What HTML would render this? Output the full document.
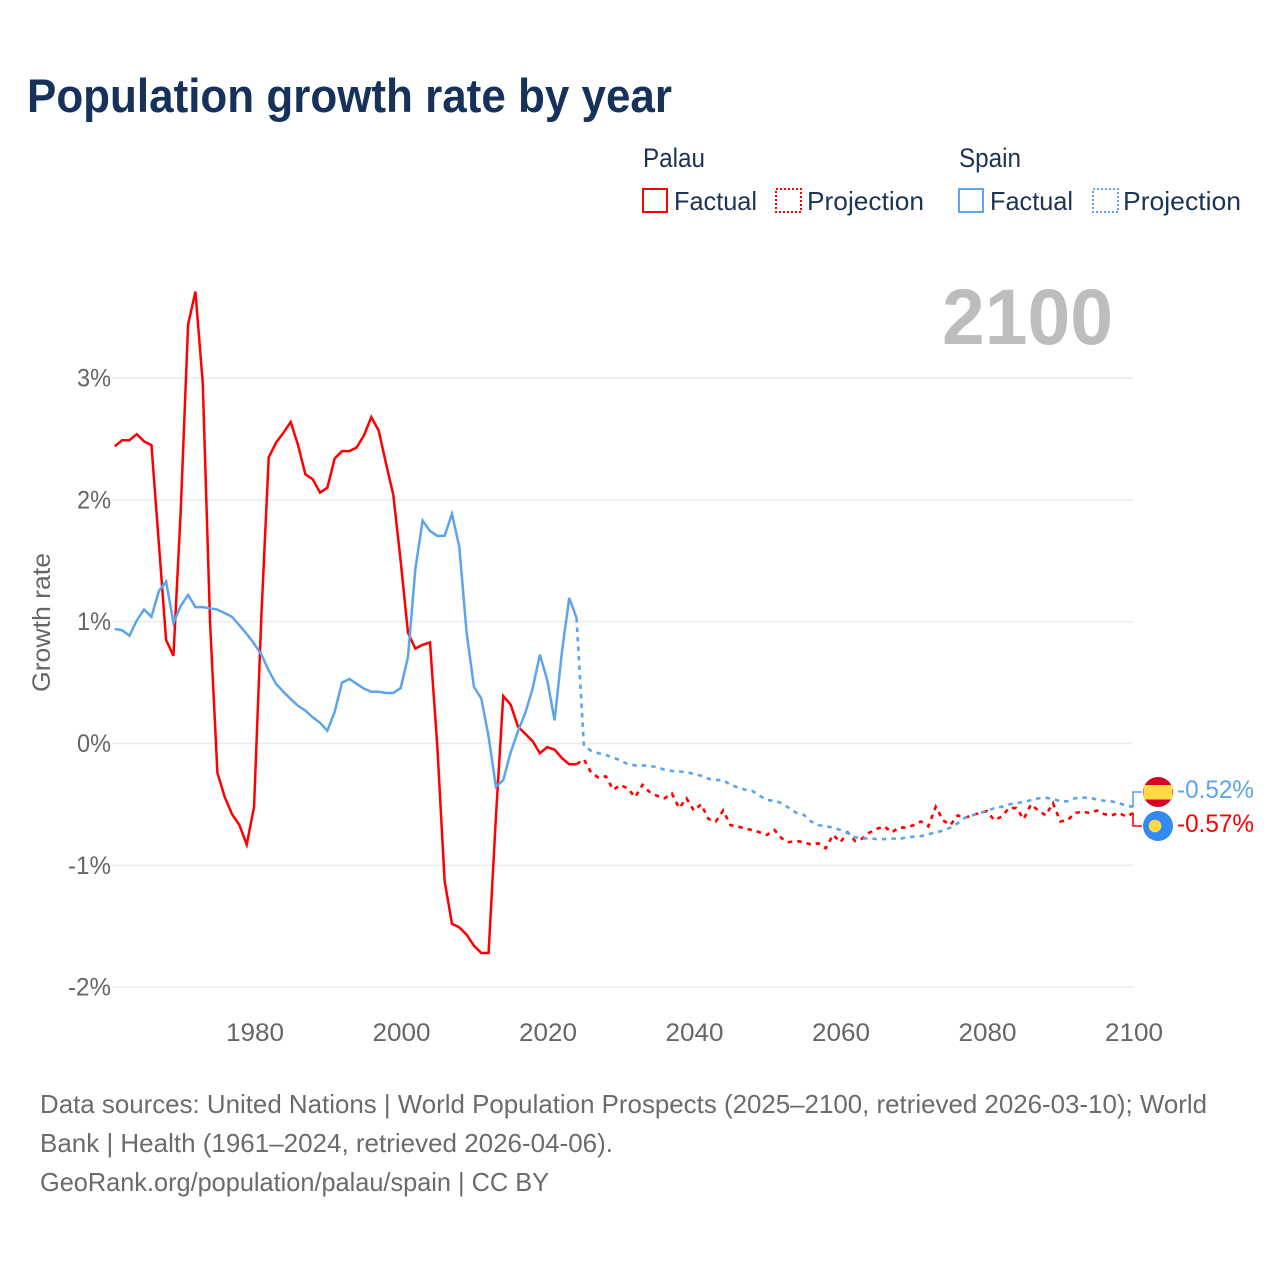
<!DOCTYPE html>
<html lang="en">
<head>
<meta charset="utf-8">
<title>Population growth rate by year</title>
<style>
html,body{margin:0;padding:0;background:#fff;}
svg{display:block;font-family:"Liberation Sans",sans-serif;}
</style>
</head>
<body>
<svg id="chart" xmlns="http://www.w3.org/2000/svg" width="1280" height="1280" viewBox="0 0 1280 1280">
  <rect x="0" y="0" width="1280" height="1280" fill="#ffffff"/>
  <text x="27" y="112" font-size="47" font-weight="700" fill="#17325a" textLength="645" lengthAdjust="spacingAndGlyphs">Population growth rate by year</text>

  <g font-size="26" fill="#1b3455">
    <text x="643" y="167" font-size="27" textLength="62" lengthAdjust="spacingAndGlyphs">Palau</text>
    <text x="959" y="167" font-size="27" textLength="62" lengthAdjust="spacingAndGlyphs">Spain</text>
    <g>
      <rect x="643" y="189" width="24" height="23" fill="none" stroke="#ff0000" stroke-width="2"/>
      <text x="674" y="210" textLength="83" lengthAdjust="spacingAndGlyphs">Factual</text>
    </g>
    <g>
      <rect x="776" y="189" width="25" height="23" fill="none" stroke="#ff0000" stroke-width="2" stroke-dasharray="2 2"/>
      <text x="807" y="210" textLength="117" lengthAdjust="spacingAndGlyphs">Projection</text>
    </g>
    <g>
      <rect x="959" y="189" width="24" height="23" fill="none" stroke="#5ca4ec" stroke-width="2"/>
      <text x="990" y="210" textLength="83" lengthAdjust="spacingAndGlyphs">Factual</text>
    </g>
    <g>
      <rect x="1093" y="189" width="25" height="23" fill="none" stroke="#5ca4ec" stroke-width="2" stroke-dasharray="2 2"/>
      <text x="1123" y="210" textLength="118" lengthAdjust="spacingAndGlyphs">Projection</text>
    </g>
  </g>

  <text x="942" y="344" font-size="79" font-weight="700" fill="#bdbdbd" textLength="171" lengthAdjust="spacingAndGlyphs">2100</text>

  <text transform="translate(50,692) rotate(-90)" font-size="25" fill="#666666" textLength="139" lengthAdjust="spacingAndGlyphs">Growth rate</text>

  <g id="grid"></g>
  <g id="yticks"></g>
  <g id="xticks"></g>
  <g id="series"></g>

  <g id="end-labels"></g>

  <g>
    <circle cx="1158" cy="792" r="15" fill="#d80027"/>
    <rect x="1143.6" y="785" width="28.8" height="14.5" fill="#ffda44"/>
  </g>
  <g>
    <circle cx="1158" cy="826" r="15" fill="#338af3"/>
    <circle cx="1155" cy="826" r="6.3" fill="#ffda44"/>
  </g>

  <g font-size="26" fill="#6b6b6b">
    <text x="40" y="1113" textLength="1167" lengthAdjust="spacingAndGlyphs">Data sources: United Nations | World Population Prospects (2025–2100, retrieved 2026-03-10); World</text>
    <text x="40" y="1152" textLength="573" lengthAdjust="spacingAndGlyphs">Bank | Health (1961–2024, retrieved 2026-04-06).</text>
    <text x="40" y="1191" textLength="509" lengthAdjust="spacingAndGlyphs">GeoRank.org/population/palau/spain | CC BY</text>
  </g>
</svg>

<script>
const factualYears = [
  1961,1962,1963,1964,1965,1966,1967,1968,1969,1970,
  1971,1972,1973,1974,1975,1976,1977,1978,1979,1980,
  1981,1982,1983,1984,1985,1986,1987,1988,1989,1990,
  1991,1992,1993,1994,1995,1996,1997,1998,1999,2000,
  2001,2002,2003,2004,2005,2006,2007,2008,2009,2010,
  2011,2012,2013,2014,2015,2016,2017,2018,2019,2020,
  2021,2022,2023,2024
];
const projectionYears = [
  2025,2026,2027,2028,2029,2030,
  2031,2032,2033,2034,2035,2036,2037,2038,2039,2040,
  2041,2042,2043,2044,2045,2046,2047,2048,2049,2050,
  2051,2052,2053,2054,2055,2056,2057,2058,2059,2060,
  2061,2062,2063,2064,2065,2066,2067,2068,2069,2070,
  2071,2072,2073,2074,2075,2076,2077,2078,2079,2080,
  2081,2082,2083,2084,2085,2086,2087,2088,2089,2090,
  2091,2092,2093,2094,2095,2096,2097,2098,2099,2100
];
const palauFactual = [
  2.44,2.49,2.49,2.54,2.48,2.45,1.65,0.85,0.72,1.92,
  3.44,3.71,2.96,0.99,-0.24,-0.44,-0.58,-0.67,-0.83,-0.52,
  1.05,2.35,2.47,2.55,2.64,2.45,2.21,2.17,2.06,2.10,
  2.34,2.40,2.40,2.43,2.53,2.68,2.57,2.30,2.04,1.50,
  0.91,0.78,0.81,0.83,-0.02,-1.13,-1.48,-1.51,-1.57,-1.66,
  -1.72,-1.72,-0.60,0.39,0.32,0.14,0.08,0.02,-0.08,-0.03,
  -0.05,-0.12,-0.17,-0.17
];
const spainFactual = [
  0.94,0.93,0.885,1.01,1.10,1.04,1.25,1.33,0.99,1.13,
  1.22,1.12,1.12,1.11,1.10,1.07,1.04,0.97,0.90,0.82,
  0.73,0.60,0.49,0.425,0.365,0.31,0.27,0.215,0.17,0.105,
  0.26,0.50,0.53,0.49,0.45,0.425,0.425,0.415,0.415,0.455,
  0.71,1.43,1.83,1.745,1.705,1.705,1.885,1.615,0.91,0.465,
  0.37,0.055,-0.355,-0.30,-0.075,0.10,0.25,0.45,0.73,0.52,
  0.19,0.75,1.195,1.03
];
const palauProjection = [
  -0.13,-0.24,-0.28,-0.27,-0.38,-0.34,
  -0.37,-0.44,-0.34,-0.40,-0.43,-0.45,-0.41,-0.53,-0.45,-0.55,
  -0.50,-0.62,-0.64,-0.55,-0.67,-0.68,-0.70,-0.71,-0.73,-0.75,
  -0.71,-0.78,-0.81,-0.80,-0.81,-0.83,-0.82,-0.86,-0.75,-0.81,
  -0.73,-0.80,-0.78,-0.73,-0.70,-0.68,-0.73,-0.69,-0.69,-0.67,
  -0.64,-0.68,-0.52,-0.63,-0.67,-0.59,-0.61,-0.59,-0.57,-0.555,
  -0.63,-0.60,-0.53,-0.53,-0.62,-0.50,-0.55,-0.59,-0.49,-0.64,
  -0.63,-0.57,-0.56,-0.57,-0.55,-0.58,-0.59,-0.57,-0.60,-0.57
];
const spainProjection = [
  -0.02,-0.06,-0.08,-0.095,-0.115,-0.14,
  -0.17,-0.18,-0.18,-0.185,-0.195,-0.215,-0.225,-0.23,-0.235,-0.25,
  -0.265,-0.29,-0.30,-0.30,-0.34,-0.36,-0.38,-0.39,-0.43,-0.465,
  -0.47,-0.49,-0.53,-0.57,-0.585,-0.64,-0.67,-0.68,-0.69,-0.71,
  -0.735,-0.77,-0.78,-0.78,-0.785,-0.785,-0.78,-0.785,-0.77,-0.765,
  -0.76,-0.745,-0.73,-0.715,-0.69,-0.655,-0.61,-0.59,-0.57,-0.555,
  -0.53,-0.52,-0.50,-0.49,-0.48,-0.465,-0.45,-0.445,-0.455,-0.475,
  -0.475,-0.45,-0.445,-0.445,-0.46,-0.47,-0.475,-0.49,-0.51,-0.52
];
const yTickValues = [3,2,1,0,-1,-2];
const yTickLabels = ["3%","2%","1%","0%","-1%","-2%"];
const xTickValues = [1980,2000,2020,2040,2060,2080,2100];
const xTickLabels = ["1980","2000","2020","2040","2060","2080","2100"];
const endLabelPalau = "-0.57%";
const endLabelSpain = "-0.52%";

const NS = "http://www.w3.org/2000/svg";
const RED = "#ff0000";
const BLUE = "#5ca4ec";

function xScale(year) { return 114.8 + (year - 1961) * (1133.6 - 114.8) / (2100 - 1961); }
function xTickScale(year) { return 115.8 + (year - 1961) * (1134 - 115.8) / (2100 - 1961); }
function yScale(value) { return 743.5 - value * 121.8; }
function linePath(xs, ys) {
  return xs.map(function (x, i) {
    return (i ? "L" : "M") + xScale(x).toFixed(2) + " " + yScale(ys[i]).toFixed(2);
  }).join("");
}
function make(tag, attrs, parent) {
  const el = document.createElementNS(NS, tag);
  Object.keys(attrs).forEach(function (k) { el.setAttribute(k, attrs[k]); });
  parent.appendChild(el);
  return el;
}

const grid = document.getElementById("grid");
const yticks = document.getElementById("yticks");
yTickValues.forEach(function (v, i) {
  const line = make("line", { x1: 112, x2: 1133, y1: yScale(v), y2: yScale(v), stroke: "#ececec", "stroke-width": 1.6 }, grid);
  
  
  const label = make("text", { x: 111, y: yScale(v) + 8.5, "text-anchor": "end", "font-size": 25, fill: "#666666", textLength: yTickLabels[i].length === 2 ? 34 : 43, lengthAdjust: "spacingAndGlyphs" }, yticks);
  label.textContent = yTickLabels[i];
  
  
});

const xticks = document.getElementById("xticks");
xTickValues.forEach(function (v, i) {
  const label = make("text", { x: xTickScale(v), y: 1041, "text-anchor": "middle", "font-size": 25, fill: "#666666", textLength: 58, lengthAdjust: "spacingAndGlyphs" }, xticks);
  label.textContent = xTickLabels[i];
  
  
});

const series = document.getElementById("series");
const lastFactualYear = factualYears[factualYears.length - 1];

const palauProjLine = make("path", {
  d: linePath([lastFactualYear].concat(projectionYears), [palauFactual[palauFactual.length - 1]].concat(palauProjection)),
  fill: "none", stroke: RED, "stroke-width": 2.6, "stroke-dasharray": "4.5 5"
}, series);



const spainProjLine = make("path", {
  d: linePath([lastFactualYear].concat(projectionYears), [spainFactual[spainFactual.length - 1]].concat(spainProjection)),
  fill: "none", stroke: BLUE, "stroke-width": 2.6, "stroke-dasharray": "4.5 5"
}, series);



const palauLine = make("path", {
  d: linePath(factualYears, palauFactual),
  fill: "none", stroke: RED, "stroke-width": 2.5, "stroke-linejoin": "miter"
}, series);



const spainLine = make("path", {
  d: linePath(factualYears, spainFactual),
  fill: "none", stroke: BLUE, "stroke-width": 2.5, "stroke-linejoin": "miter"
}, series);



const endLabels = document.getElementById("end-labels");
const palauEndY = yScale(palauProjection[palauProjection.length - 1]);
const spainEndY = yScale(spainProjection[spainProjection.length - 1]);

const spainConnector = make("path", {
  d: "M1133 " + spainEndY.toFixed(1) + "L1133 792L1142 792",
  fill: "none", stroke: BLUE, "stroke-width": 1.6
}, endLabels);



const palauConnector = make("path", {
  d: "M1133 " + palauEndY.toFixed(1) + "L1133 826L1142 826",
  fill: "none", stroke: RED, "stroke-width": 1.6
}, endLabels);



const spainEndLabel = make("text", { x: 1177, y: 798, "font-size": 25, fill: BLUE, textLength: 77, lengthAdjust: "spacingAndGlyphs" }, endLabels);
spainEndLabel.textContent = endLabelSpain;



const palauEndLabel = make("text", { x: 1177, y: 832, "font-size": 25, fill: RED, textLength: 77, lengthAdjust: "spacingAndGlyphs" }, endLabels);
palauEndLabel.textContent = endLabelPalau;


</script>
</body>
</html>
